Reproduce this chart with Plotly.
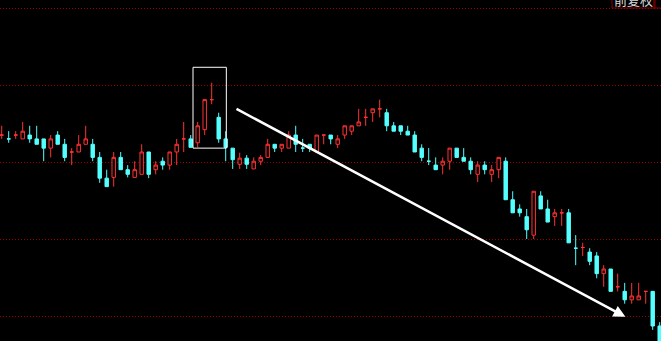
import plotly.graph_objects as go

# Daily candles (price units; grid lines every 1.00)
OPEN = [12.35, 12.30, 12.35, 12.30, 12.35, 12.30, 12.30, 12.18, 12.35, 12.23,
        12.13, 12.13, 12.23, 12.23, 12.06, 11.79, 11.80, 12.06, 11.90, 11.80,
        11.84, 12.13, 11.90, 12.01, 11.96, 12.13, 12.30, 12.30, 12.25, 12.42,
        12.81, 12.58, 12.30, 12.18, 11.97, 12.05, 11.91, 12.01, 12.06, 12.23,
        12.18, 12.18, 12.35, 12.18, 12.23, 12.13, 12.35, 12.35, 12.23, 12.35,
        12.40, 12.47, 12.58, 12.64, 12.69, 12.64, 12.47, 12.47, 12.40, 12.35,
        12.18, 12.01, 11.96, 11.96, 12.01, 12.18, 12.06, 12.01, 11.84, 11.96,
        11.84, 11.90, 12.01, 11.51, 11.39, 11.29, 11.05, 11.56, 11.39, 11.29,
        11.34, 11.34, 10.88, 10.89, 10.83, 10.78, 10.55, 10.61, 10.38, 10.32,
        10.21, 10.21, 10.32, 10.32, 9.87]
HIGH = [12.47, 12.40, 12.40, 12.52, 12.47, 12.47, 12.30, 12.35, 12.40, 12.30,
        12.18, 12.35, 12.47, 12.30, 12.13, 11.90, 12.13, 12.13, 11.96, 12.01,
        12.23, 12.13, 12.01, 12.06, 12.13, 12.30, 12.52, 12.35, 12.52, 12.81,
        13.03, 12.64, 12.40, 12.18, 12.12, 12.09, 12.06, 12.09, 12.30, 12.23,
        12.23, 12.40, 12.47, 12.30, 12.23, 12.35, 12.35, 12.35, 12.35, 12.47,
        12.47, 12.69, 12.69, 12.69, 12.81, 12.69, 12.52, 12.47, 12.47, 12.40,
        12.23, 12.18, 12.06, 12.06, 12.18, 12.18, 12.18, 12.06, 12.01, 12.01,
        11.96, 12.06, 12.06, 11.62, 11.45, 11.39, 11.62, 11.62, 11.51, 11.39,
        11.39, 11.39, 11.05, 10.95, 10.88, 10.83, 10.66, 10.61, 10.55, 10.43,
        10.43, 10.43, 10.32, 10.32, 9.92]
LOW = [12.30, 12.25, 12.30, 12.30, 12.25, 12.23, 12.01, 12.06, 12.23, 12.01,
       11.96, 12.13, 12.23, 12.01, 11.73, 11.68, 11.68, 11.90, 11.80, 11.80,
       11.84, 11.79, 11.84, 11.90, 11.90, 11.96, 12.13, 12.19, 12.19, 12.35,
       12.75, 12.25, 12.01, 11.91, 11.91, 11.91, 11.91, 11.96, 12.06, 12.13,
       12.13, 12.18, 12.13, 12.13, 12.13, 12.13, 12.23, 12.23, 12.18, 12.30,
       12.35, 12.47, 12.47, 12.52, 12.58, 12.40, 12.40, 12.35, 12.35, 12.13,
       12.01, 11.96, 11.90, 11.84, 11.90, 12.06, 12.01, 11.84, 11.74, 11.84,
       11.74, 11.79, 11.51, 11.34, 11.29, 11.00, 11.00, 11.39, 11.22, 11.17,
       11.17, 10.95, 10.66, 10.78, 10.66, 10.49, 10.38, 10.32, 10.32, 10.16,
       10.16, 10.21, 10.16, 9.82, 9.60]
CLOSE = [12.35, 12.30, 12.35, 12.40, 12.30, 12.23, 12.18, 12.30, 12.23, 12.06,
         12.13, 12.23, 12.30, 12.06, 11.79, 11.68, 12.06, 11.90, 11.84, 11.90,
         12.13, 11.84, 11.96, 11.96, 12.13, 12.23, 12.30, 12.19, 12.47, 12.81,
         12.81, 12.30, 12.19, 12.03, 12.05, 11.97, 12.01, 12.06, 12.23, 12.18,
         12.23, 12.35, 12.23, 12.18, 12.18, 12.35, 12.35, 12.30, 12.30, 12.47,
         12.47, 12.52, 12.58, 12.69, 12.69, 12.47, 12.40, 12.40, 12.35, 12.13,
         12.06, 12.01, 11.90, 12.01, 12.18, 12.06, 12.01, 11.90, 11.96, 11.90,
         11.90, 12.06, 11.51, 11.34, 11.34, 11.12, 11.62, 11.39, 11.22, 11.34,
         11.34, 10.95, 10.88, 10.89, 10.71, 10.55, 10.61, 10.32, 10.38, 10.21,
         10.26, 10.26, 10.32, 9.87, 9.62]
DAYS = list(range(len(OPEN)))

GRID_LEVELS = [10, 11, 12, 13, 14]
LABEL_TEXT = "前复权"

# annotation anchors (data space: day index, price)
BOX_X = (27.33, 32.09)
BOX_Y = (12.18, 13.23)
ARROW_START = (33.33, 12.70)
ARROW_END = (89.10, 9.99)

RED = "#ff3232"
CYAN = "#54ffff"
GRID = "#a00000"

fig = go.Figure()
fig.add_trace(go.Candlestick(
    x=DAYS, open=OPEN, high=HIGH, low=LOW, close=CLOSE,
    increasing=dict(line=dict(color=RED, width=1), fillcolor="#000000"),
    decreasing=dict(line=dict(color=CYAN, width=1), fillcolor=CYAN),
    whiskerwidth=0, hoverinfo="skip", showlegend=False,
))

fig.add_shape(type="rect", xref="x", yref="y",
              x0=BOX_X[0], x1=BOX_X[1], y0=BOX_Y[0], y1=BOX_Y[1],
              line=dict(color="white", width=1), fillcolor="rgba(0,0,0,0)")

fig.add_annotation(x=ARROW_END[0], y=ARROW_END[1], ax=ARROW_START[0], ay=ARROW_START[1],
                   xref="x", yref="y", axref="x", ayref="y", text="",
                   showarrow=True, arrowhead=2, arrowsize=0.95, arrowwidth=2.5,
                   arrowcolor="white", standoff=0, startstandoff=0)

# top-right label box (partly cut off by the top edge)
W, H = 661, 341
fig.add_shape(type="rect", xref="paper", yref="paper",
              x0=612 / W, x1=654 / W, y0=1 - 8 / H, y1=1.1,
              line=dict(color="#8b0000", width=1), fillcolor="#000000")
fig.add_shape(type="rect", xref="paper", yref="paper",
              x0=655 / W, x1=1.1, y0=1 - 8 / H, y1=1.1,
              line=dict(color="#8b0000", width=1), fillcolor="#000000")
fig.add_annotation(xref="paper", yref="paper", x=633 / W, y=1 + 0.5 / H,
                   text=LABEL_TEXT, showarrow=False, xanchor="center", yanchor="middle",
                   font=dict(family="Noto Sans CJK SC", size=13, color="#d8d8d8"))

fig.update_layout(
    width=W, height=H, margin=dict(l=0, r=0, t=0, b=0),
    paper_bgcolor="#000000", plot_bgcolor="#000000",
    boxgap=0.3,
    xaxis=dict(range=[-1.7 / 7, (W - 1.7) / 7], showgrid=False, zeroline=False,
               showticklabels=False, ticks="", rangeslider=dict(visible=False),
               showline=False),
    yaxis=dict(range=[14 - (H - 8) / 77, 14 + 8 / 77], tickvals=GRID_LEVELS,
               showgrid=True, gridcolor=GRID, gridwidth=1, griddash="1px,2px",
               zeroline=False, showticklabels=False, ticks="", showline=False),
)

fig.write_html("out.html")
